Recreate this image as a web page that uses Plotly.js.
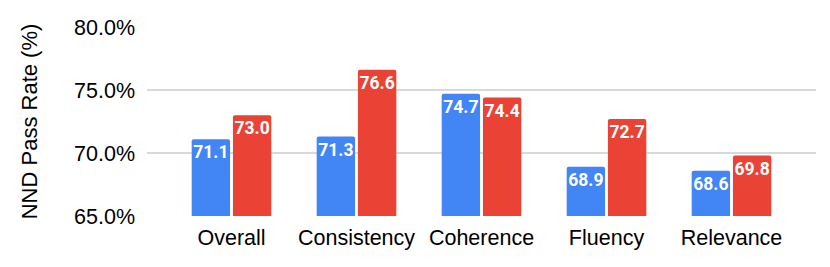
<!DOCTYPE html>
<html>
<head>
<meta charset="utf-8">
<script src="https://cdn.plot.ly/plotly-3.0.1.min.js"></script>
<style>html,body{margin:0;padding:0;background:#fff;}#chart{width:830px;height:267px;}</style>
</head>
<body>
<div id="chart"></div>
<script>
const categories = ["Overall", "Consistency", "Coherence", "Fluency", "Relevance"];
const seriesA = [71.1, 71.3, 74.7, 68.9, 68.6];
const seriesB = [73.0, 76.6, 74.4, 72.7, 69.8];
const yTicks = [65, 70, 75, 80];
const yTickText = ["65.0%", "70.0%", "75.0%", "80.0%"];

function barTrace(vals, color) {
  return {
    type: "bar",
    x: categories,
    y: vals,
    marker: {color: color, cornerradius: 2},
    text: vals.map(v => v.toFixed(1)),
    textposition: "inside",
    insidetextanchor: "end",
    constraintext: "none",
    textangle: 0,
    textfont: {family: "Roboto, 'Liberation Sans', Arial, sans-serif", size: 17.5, color: "#ffffff", weight: "bold"},
    hoverinfo: "none",
    showlegend: false
  };
}

const data = [barTrace(seriesA, "#4285F4"), barTrace(seriesB, "#EA4335")];

const layout = {
  width: 830, height: 267,
  margin: {l: 147, r: 14, t: 27, b: 51},
  paper_bgcolor: "#ffffff", plot_bgcolor: "#ffffff",
  barmode: "group", bargap: 0.34, bargroupgap: 0.07,
  font: {family: "'Liberation Sans', Arial, sans-serif", color: "#000000", size: 21.5},
  xaxis: {
    type: "category",
    range: [-0.676, 4.676],
    showgrid: false, zeroline: false, showline: false, ticks: "",
    ticklabelstandoff: 6,
    tickfont: {size: 21.5, color: "#000000"},
    fixedrange: true
  },
  yaxis: {
    range: [65, 80],
    tickvals: yTicks,
    ticktext: yTickText,
    showgrid: true, gridcolor: "#d9d9d9", gridwidth: 1.5,
    zeroline: false, showline: false, ticks: "",
    ticklabelstandoff: 11,
    tickfont: {size: 21.5, color: "#000000"},
    title: {text: "NND Pass Rate (%)", font: {size: 22, color: "#000000"}, standoff: 30},
    automargin: false,
    fixedrange: true
  }
};

Plotly.newPlot("chart", data, layout, {displayModeBar: false, staticPlot: true});
</script>
</body>
</html>
